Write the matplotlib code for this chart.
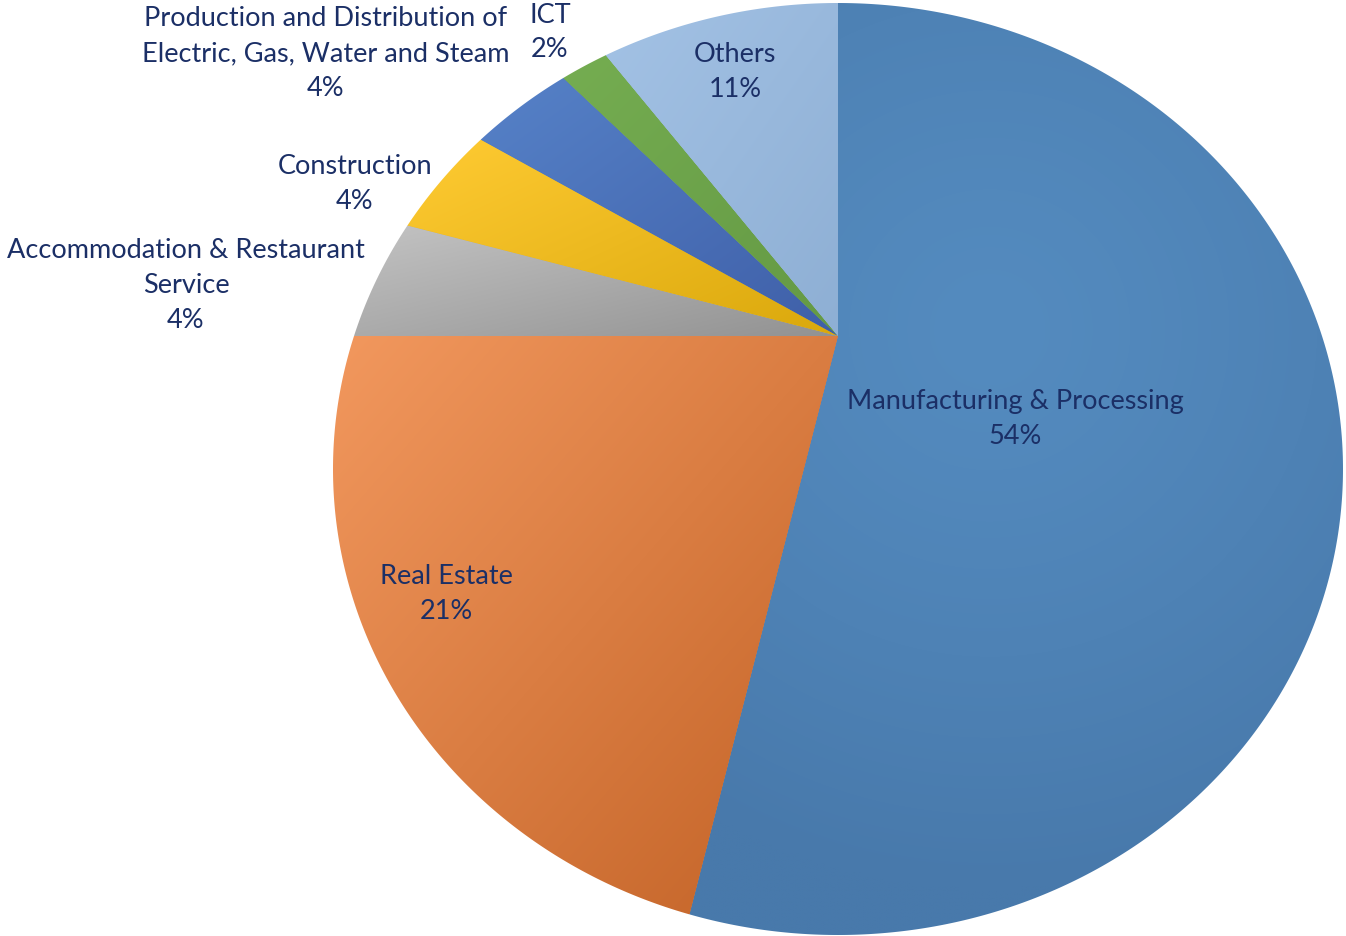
import numpy as np
import matplotlib
matplotlib.use("Agg")
import matplotlib.pyplot as plt
from matplotlib.patches import PathPatch
from matplotlib.path import Path
from matplotlib.colors import to_rgb

# Sector shares of investment (%)
categories = [
    "Manufacturing & Processing",
    "Real Estate",
    "Accommodation & Restaurant\nService",
    "Construction",
    "Production and Distribution of\nElectric, Gas, Water and Steam",
    "ICT",
    "Others",
]
shares = [54, 21, 4, 4, 4, 2, 11]

# Fill gradients for each slice (light end, dark end)
light_colors = ["#548bbf", "#f2985e", "#c3c3c3", "#ffcb33", "#5682c8", "#75ad51", "#a3c2e5"]
dark_colors = ["#4879ab", "#c26226", "#929292", "#daa80c", "#3f5fa8", "#649944", "#8eafd4"]

W, H = 1346, 937
fig = plt.figure(figsize=(W / 100, H / 100), dpi=100)
ax = fig.add_axes([0, 0, 1, 1])

apex = (838, 600)            # point where the slices meet
ell_c = (838, 467)           # centre of the outer outline
ell_a, ell_b = 505, 466      # half-width / half-height of the outline

wedges, _ = ax.pie(
    shares, startangle=90, counterclock=False, center=apex, radius=900,
    colors=dark_colors, wedgeprops=dict(linewidth=0),
)


def ray_to_outline(theta_deg):
    t = np.deg2rad(theta_deg)
    dx, dy = np.cos(t), np.sin(t)
    px, py = apex[0] - ell_c[0], apex[1] - ell_c[1]
    A = (dx / ell_a) ** 2 + (dy / ell_b) ** 2
    B = 2 * (px * dx / ell_a ** 2 + py * dy / ell_b ** 2)
    C = (px / ell_a) ** 2 + (py / ell_b) ** 2 - 1
    s = (-B + np.sqrt(B * B - 4 * A * C)) / (2 * A)
    return apex[0] + s * dx, apex[1] + s * dy


n = 200
for i, w in enumerate(wedges):
    t1, t2 = sorted((w.theta1, w.theta2))
    pts = [ray_to_outline(t) for t in np.linspace(t1, t2, 120)] + [apex]
    xs, ys = zip(*pts)
    x0, x1, y0, y1 = min(xs), max(xs), min(ys), max(ys)
    gx, gy = np.meshgrid(np.linspace(0, 1, n), np.linspace(0, 1, n))
    if i == 0:
        # soft radial shading for the large slice
        cx, cy = (990 - x0) / (x1 - x0), (607 - y0) / (y1 - y0)
        d = np.hypot((gx - cx) * (x1 - x0), (gy - cy) * (y1 - y0)) / 560
        frac = np.clip(d, 0, 1) ** 1.3
    else:
        # diagonal shading: light at upper left, dark at lower right
        frac = (gx + (1 - gy)) / 2
    c0, c1 = np.array(to_rgb(light_colors[i])), np.array(to_rgb(dark_colors[i]))
    img = c0[None, None, :] * (1 - frac[..., None]) + c1[None, None, :] * frac[..., None]
    im = ax.imshow(img, extent=(x0, x1, y0, y1), origin="lower", aspect="auto",
                   interpolation="bilinear", zorder=2)
    im.set_clip_path(w)

# white surround outside the elliptical outline
ang = np.linspace(0, 2 * np.pi, 721)
ell_verts = np.column_stack([ell_c[0] + ell_a * np.cos(ang), ell_c[1] + ell_b * np.sin(ang)])
rect = np.array([[-50, -50], [-50, H + 50], [W + 50, H + 50], [W + 50, -50], [-50, -50]])
verts = np.vstack([rect, ell_verts])
codes = ([Path.MOVETO] + [Path.LINETO] * 3 + [Path.CLOSEPOLY]
         + [Path.MOVETO] + [Path.LINETO] * (len(ell_verts) - 2) + [Path.CLOSEPOLY])
ax.add_patch(PathPatch(Path(verts, codes), facecolor="white", edgecolor="none", zorder=3))

# data labels
label_pos = [(1015, 518), (446, 343), (186, 651.5), (355, 753), (326, 883.5), (550, 904.5), (735, 865)]
for name, v, (lx, ly) in zip(categories, shares, label_pos):
    ax.text(lx, ly, f"{name}\n{v}%", ha="center", va="center", fontsize=19.5,
            family="Lato", color="#1b2f66", linespacing=1.48, zorder=4)

ax.set_xlim(0, W)
ax.set_ylim(0, H)
ax.set_aspect("auto")
ax.axis("off")
fig.savefig("out.png", dpi=100, facecolor="white")
